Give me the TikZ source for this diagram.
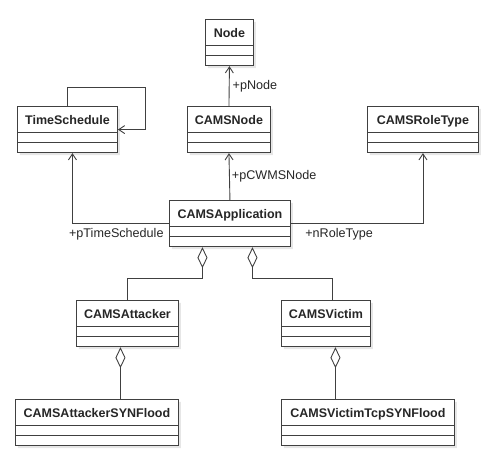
\documentclass[tikz,border=0pt]{standalone}
\usepackage{fontspec}
\setmainfont{Liberation Sans}
\usetikzlibrary{shapes.multipart,shadows,arrows.meta}

\begin{document}
\begin{tikzpicture}[x=1pt, y=-1pt,
  umlclass/.style={rectangle split, rectangle split parts=3, draw=black!75, line width=0.9pt, fill=white,
    anchor=north west, inner xsep=3pt, inner ysep=2pt,
    rectangle split empty part height=5pt, rectangle split empty part depth=0pt,
    font=\fontsize{12.5}{14}\selectfont\bfseries, text=black!85,
    drop shadow={opacity=0.2, shadow xshift=2.5pt, shadow yshift=-2.5pt}},
  assoc/.style={draw=black!75, line width=0.9pt, -{Straight Barb[length=6pt, width=8pt]}},
  aggr/.style={draw=black!75, line width=0.9pt, {Diamond[open, length=21pt, width=10pt]}-},
  role/.style={font=\fontsize{12.6}{14}\selectfont, text=black!85, inner sep=2pt}]
\useasboundingbox (0,0) rectangle (493,456);

\node [umlclass, minimum width=48pt] (node) at (205,19) {\rule[-5.5pt]{0pt}{21pt}Node\nodepart{second}\nodepart{third}};
\node [umlclass, minimum width=100pt] (ts) at (17,106) {\rule[-5.5pt]{0pt}{21pt}TimeSchedule\nodepart{second}\nodepart{third}};
\node [umlclass, minimum width=83pt] (cnode) at (187,106) {\rule[-5.5pt]{0pt}{21pt}CAMSNode\nodepart{second}\nodepart{third}};
\node [umlclass, minimum width=111pt] (rt) at (367,106) {\rule[-5.5pt]{0pt}{21pt}CAMSRoleType\nodepart{second}\nodepart{third}};
\node [umlclass, minimum width=121pt] (app) at (169,200) {\rule[-5.5pt]{0pt}{21pt}CAMSApplication\nodepart{second}\nodepart{third}};
\node [umlclass, minimum width=102pt] (att) at (76,300) {\rule[-5.5pt]{0pt}{21pt}CAMSAttacker\nodepart{second}\nodepart{third}};
\node [umlclass, minimum width=89pt] (vic) at (281,300) {\rule[-5.5pt]{0pt}{21pt}CAMSVictim\nodepart{second}\nodepart{third}};
\node [umlclass, minimum width=163pt] (attsyn) at (15,399) {\rule[-5.5pt]{0pt}{21pt}CAMSAttackerSYNFlood\nodepart{second}\nodepart{third}};
\node [umlclass, minimum width=173pt] (vicsyn) at (281,399) {\rule[-5.5pt]{0pt}{21pt}CAMSVictimTcpSYNFlood\nodepart{second}\nodepart{third}};

% associations
\draw [assoc] (cnode.north) -- node [role, anchor=west, xshift=1pt] {+pNode} (node.south);
\draw [assoc] (ts.north) -- ++(0,-19) -| ([xshift=28pt]ts.east) -- (ts.east);
\draw [assoc] (app.north) -- node [role, anchor=west] {+pCWMSNode} (cnode.south);
\draw [assoc] (app.west) node [role, anchor=north east, xshift=-3pt, yshift=-2pt] {+pTimeSchedule} -| ([xshift=5pt]ts.south);
\draw [assoc] (app.east) node [role, anchor=north west, xshift=12pt, yshift=-2pt] {+nRoleType} -| (rt.south);

% aggregations
\draw [aggr] ([xshift=-27.5pt]app.south) -- ++(0,31) -| (att.north);
\draw [aggr] ([xshift=22.5pt]app.south) -- ++(0,31) -| ([xshift=6.5pt]vic.north);
\draw [aggr] ([xshift=-7pt]att.south) -- ([xshift=-7pt]att.south |- attsyn.north);
\draw [aggr] ([xshift=9.5pt]vic.south) -- ([xshift=9.5pt]vic.south |- vicsyn.north);
\end{tikzpicture}
\end{document}
